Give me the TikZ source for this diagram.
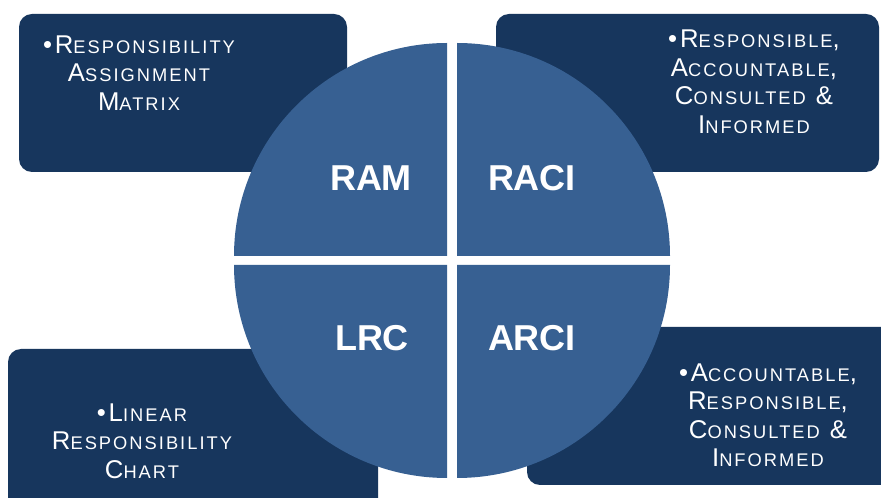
\documentclass[tikz,border=0pt]{standalone}
\usepackage{fontspec}
\setmainfont{Liberation Sans}
\newfontfamily\boxfont[LetterSpace=11]{Liberation Sans}
\definecolor{boxblue}{HTML}{17365D}
\definecolor{quadblue}{HTML}{376092}
\newcommand\smc[1]{{\fontsize{18.3}{18.3}\selectfont #1}}

\begin{document}
\begin{tikzpicture}[x=1pt,y=1pt,
	info_box/.style={fill=boxblue,rounded corners=13pt},
	quad/.style={fill=quadblue},
	quad_label/.style={text=white,font=\fontsize{36}{36}\selectfont\bfseries},
	info_text/.style={text=white,align=center,inner sep=0pt,font=\boxfont\fontsize{25.7}{28.5}\selectfont}]

		\useasboundingbox (0,0) rectangle (881,498);
		\clip (0,0) rectangle (881,498);
		\fill[white] (0,0) rectangle (881,498);

		% boxes behind the circle
		\fill[info_box] (19,326) rectangle (347,484);
		\fill[info_box] (496,326) rectangle (879,484);
		\fill[info_box] (8,-30) rectangle (378,149);
		\fill[info_box] (527,13) rectangle (900,171);

		% four quarters
		\fill[quad] (447,242) -- (234,242) arc[start angle=180,end angle=90,radius=213] -- cycle;
		\fill[quad] (457,242) -- (457,455) arc[start angle=90,end angle=0,radius=213] -- cycle;
		\fill[quad] (447,233) -- (447,20) arc[start angle=270,end angle=180,radius=213] -- cycle;
		\fill[quad] (457,233) -- (670,233) arc[start angle=0,end angle=-90,radius=213] -- cycle;

		\node[quad_label] (ram) at (371,320) {RAM};
		\node[quad_label] (raci) at (532,320) {RACI};
		\node[quad_label] (lrc) at (372,160) {LRC};
		\node[quad_label] (arci) at (532,160) {ARCI};

		\node[info_text] (ram_text) at (139,425) {\textbullet R\smc{ESPONSIBILITY}\\A\smc{SSIGNMENT}\\M\smc{ATRIX}};
		\node[info_text] (raci_text) at (754,416) {\textbullet R\smc{ESPONSIBLE},\\A\smc{CCOUNTABLE},\\C\smc{ONSULTED} \&\\I\smc{NFORMED}};
		\node[info_text] (lrc_text) at (142,57) {\textbullet L\smc{INEAR}\\R\smc{ESPONSIBILITY}\\C\smc{HART}};
		\node[info_text] (arci_text) at (768,83) {\textbullet A\smc{CCOUNTABLE},\\R\smc{ESPONSIBLE},\\C\smc{ONSULTED} \&\\I\smc{NFORMED}};
\end{tikzpicture}
\end{document}
